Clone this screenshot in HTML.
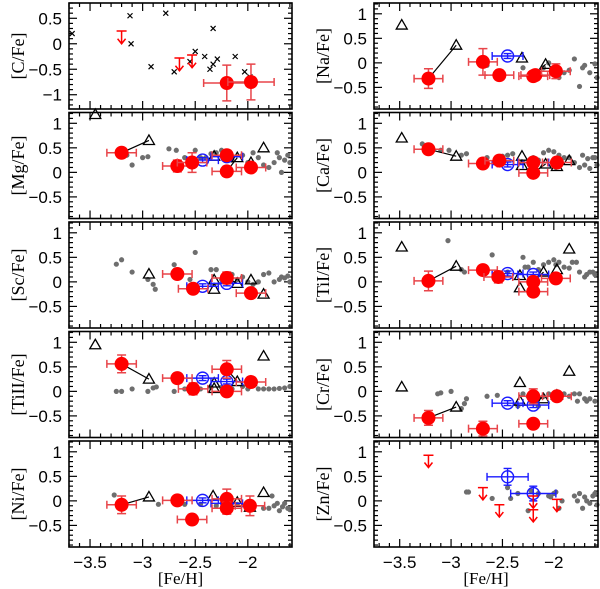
<!DOCTYPE html>
<html><head><meta charset="utf-8"><style>
html,body{margin:0;padding:0;background:#fff;}
svg{display:block;}
.tk{font-family:"Liberation Sans",sans-serif;font-size:17px;fill:#000;}
.tt{font-family:"Liberation Serif",serif;font-size:18px;fill:#000;}
.xt{font-family:"Liberation Serif",serif;font-size:17px;fill:#000;}
</style></head><body>
<svg id="chart" width="600" height="589" viewBox="0 0 600 589" xmlns="http://www.w3.org/2000/svg"></svg>
<script>
// ---- data: [Fe/H], [X/Fe] pairs ----
const cfeCross=[[-3.67,0.2],[-3.12,0.55],[-3.11,0.0],[-2.92,-0.45],[-2.78,0.6],[-2.70,-0.55],[-2.55,-0.35],[-2.50,-0.15],[-2.41,-0.25],[-2.36,-0.5],[-2.33,-0.4],[-2.33,0.3],[-2.29,-0.3],[-2.12,-0.25],[-2.03,-0.55],[-1.98,-0.65]];
const cfeRed=[[-2.2,-0.77],[-1.97,-0.75]];
const cfeRedXerr=[0.22,0.22];
const cfeRedYerr=[0.35,0.35];
const cfeLimits=[[-3.2,0.25],[-2.65,-0.28],[-2.53,-0.22]];

const naRed=[[-3.22,-0.32],[-2.69,0.02],[-2.53,-0.25],[-2.2,-0.27],[-2.18,-0.25],[-1.98,-0.17]];
const naRedYerr=[0.2,0.27,0.06,0.06,0.06,0.15];
const naBlue=[[-2.45,0.14]];
const naTri=[[-3.48,0.77],[-2.95,0.36],[-2.31,0.1],[-2.08,-0.03]];
const naLinks=[[0,1],[3,3]];
const naGrey=[[-2.65,-0.05],[-2.3,-0.1],[-2.1,-0.1],[-2.05,0.0],[-1.95,-0.3],[-1.9,-0.2],[-1.85,-0.15],[-1.8,0.08],[-1.75,-0.48],[-1.72,-0.1],[-1.7,-0.05],[-1.65,-0.2],[-1.6,-0.02],[-1.58,-0.3]];

const mgRed=[[-3.2,0.4],[-2.67,0.13],[-2.53,0.2],[-2.2,0.35],[-2.2,0.02],[-1.97,0.1]];
const mgRedYerr=[0.05,0.12,0.2,0.1,0.1,0.05];
const mgBlue=[[-2.43,0.25],[-2.2,0.32]];
const mgTri=[[-3.45,1.18],[-2.94,0.65],[-2.32,0.33],[-2.1,0.3],[-1.97,0.2],[-1.85,0.5]];
const mgLinks=[[0,1],[4,3]];
const mgGrey=[[-3.2,0.35],[-3.15,0.35],[-3.0,0.3],[-2.95,0.32],[-3.1,0.15],[-2.75,0.48],[-2.68,0.45],[-2.6,0.3],[-2.55,0.18],[-2.5,0.45],[-2.45,0.3],[-2.4,0.3],[-2.35,0.38],[-2.3,0.4],[-2.25,0.45],[-2.15,0.25],[-2.05,0.35],[-2.0,0.2],[-1.95,0.4],[-1.9,0.3],[-1.85,0.15],[-1.8,0.1],[-1.75,0.2],[-1.72,0.4],[-1.7,0.3],[-1.68,0.0],[-1.65,0.25],[-1.62,0.35],[-1.6,0.2]];

const caRed=[[-3.22,0.47],[-2.69,0.18],[-2.53,0.24],[-2.2,-0.01],[-2.2,0.2],[-1.97,0.2]];
const caRedYerr=[0.05,0.05,0.05,0.08,0.05,0.1];
const caBlue=[[-2.45,0.16],[-2.2,0.2]];
const caTri=[[-3.48,0.7],[-2.95,0.33],[-2.31,0.33],[-2.31,0.14],[-2.08,0.17],[-1.97,0.12],[-1.85,0.24]];
const caLinks=[[0,1],[3,4]];
const caGrey=[[-3.28,0.58],[-3.1,0.45],[-3.02,0.45],[-2.9,0.35],[-2.85,0.38],[-2.65,0.3],[-2.5,0.33],[-2.45,0.35],[-2.4,0.38],[-2.3,0.2],[-2.2,0.3],[-2.15,0.25],[-2.1,0.4],[-2.05,0.45],[-2.0,0.42],[-1.98,0.1],[-1.95,0.35],[-1.9,0.3],[-1.85,0.3],[-1.8,0.2],[-1.75,0.1],[-1.72,0.35],[-1.7,0.15],[-1.67,0.28],[-1.65,0.08],[-1.62,0.3],[-1.6,0.3],[-1.58,0.15]];

const scRed=[[-2.67,0.16],[-2.52,-0.14],[-2.2,0.08],[-1.97,-0.23]];
const scRedYerr=[0.08,0.08,0.12,0.08];
const scBlue=[[-2.43,-0.09],[-2.2,-0.03]];
const scTri=[[-2.94,0.16],[-2.32,0.04],[-2.32,-0.15],[-2.1,-0.03],[-1.97,0.04],[-1.85,-0.25]];
const scLinks=[[2,3]];
const scGrey=[[-3.25,0.36],[-3.2,0.45],[-3.1,0.2],[-2.95,0.05],[-2.9,-0.05],[-2.88,-0.15],[-2.7,0.35],[-2.68,0.1],[-2.55,0.05],[-2.5,0.6],[-2.35,0.25],[-2.3,0.25],[-2.25,0.05],[-2.15,0.15],[-2.1,0.05],[-2.05,0.1],[-2.0,0.0],[-1.95,-0.05],[-1.9,0.0],[-1.85,0.15],[-1.8,0.18],[-1.75,0.0],[-1.7,0.05],[-1.68,0.1],[-1.65,0.08],[-1.62,0.12],[-1.6,0.0]];

const tiRed=[[-3.22,0.02],[-2.69,0.24],[-2.54,0.1],[-2.2,0.0],[-2.2,-0.2],[-1.98,0.07]];
const tiRedYerr=[0.2,0.06,0.12,0.1,0.08,0.06];
const tiBlue=[[-2.45,0.17],[-2.2,0.15]];
const tiTri=[[-3.48,0.71],[-2.95,0.32],[-2.33,0.13],[-2.33,-0.12],[-2.1,0.2],[-1.97,0.25],[-1.85,0.67]];
const tiLinks=[[0,1],[3,4]];
const tiGrey=[[-3.03,0.84],[-2.9,0.25],[-2.87,0.2],[-2.6,0.55],[-2.45,0.2],[-2.3,0.5],[-2.28,0.3],[-2.25,0.3],[-2.2,0.4],[-2.15,0.25],[-2.1,0.35],[-2.05,0.4],[-2.0,0.45],[-1.98,0.35],[-1.95,0.4],[-1.9,0.3],[-1.85,0.28],[-1.82,0.4],[-1.78,0.4],[-1.75,0.2],[-1.7,0.1],[-1.68,0.15],[-1.65,0.2],[-1.62,0.2],[-1.6,0.15]];

const tiiRed=[[-3.2,0.56],[-2.67,0.27],[-2.52,0.05],[-2.2,0.45],[-2.2,0.0],[-1.97,0.19]];
const tiiRedYerr=[0.18,0.06,0.12,0.18,0.08,0.1];
const tiiBlue=[[-2.43,0.27],[-2.2,0.2]];
const tiiTri=[[-3.45,0.95],[-2.94,0.25],[-2.32,0.17],[-2.32,0.06],[-2.1,0.2],[-1.97,0.2],[-1.85,0.72]];
const tiiLinks=[[0,1],[3,4]];
const tiiGrey=[[-3.25,0],[-3.2,0],[-3.1,0.05],[-2.95,0],[-2.9,0.07],[-2.87,0.09],[-2.7,0.0],[-2.6,0.05],[-2.55,0.0],[-2.45,0.05],[-2.35,0.08],[-2.25,0.08],[-2.15,0.05],[-2.05,0.1],[-2.0,0.05],[-1.9,0.05],[-1.85,0.05],[-1.8,0.05],[-1.75,0.05],[-1.7,0.06],[-1.65,0.07],[-1.6,0.1]];

const crRed=[[-3.22,-0.54],[-2.69,-0.76],[-2.2,-0.66],[-2.2,-0.1],[-1.97,-0.1]];
const crRedYerr=[0.15,0.15,0.08,0.15,0.08];
const crBlue=[[-2.45,-0.24],[-2.2,-0.28]];
const crTri=[[-3.48,0.09],[-2.95,-0.32],[-2.33,0.18],[-2.33,-0.2],[-2.1,-0.15],[-1.97,-0.08],[-1.85,0.41]];
const crLinks=[[0,1],[3,4]];
const crGrey=[[-3.13,-0.05],[-3.1,-0.03],[-3.0,0.0],[-2.9,-0.35],[-2.87,-0.25],[-2.85,-0.15],[-2.65,-0.1],[-2.55,-0.08],[-2.35,-0.3],[-2.3,-0.05],[-2.25,-0.1],[-2.2,-0.1],[-2.15,-0.3],[-2.1,-0.1],[-2.05,-0.05],[-2.0,-0.08],[-1.95,-0.05],[-1.9,-0.05],[-1.85,-0.1],[-1.8,-0.05],[-1.77,-0.2],[-1.75,-0.05],[-1.7,-0.15],[-1.68,-0.2],[-1.65,-0.15],[-1.6,-0.2]];

const niRed=[[-3.2,-0.08],[-2.67,0.01],[-2.53,-0.38],[-2.2,0.04],[-2.2,-0.15],[-1.98,-0.1]];
const niRedYerr=[0.18,0.05,0.05,0.2,0.12,0.2];
const niBlue=[[-2.43,0.01],[-2.2,-0.05]];
const niTri=[[-2.94,0.08],[-2.33,0.1],[-2.1,-0.03],[-1.98,-0.13],[-1.85,0.17]];
const niLinks=[[0,0]];
const niGrey=[[-3.27,0.12],[-2.85,-0.07],[-2.6,-0.07],[-2.45,-0.07],[-2.3,-0.1],[-2.2,-0.05],[-2.1,-0.07],[-2.0,-0.1],[-1.95,-0.1],[-1.85,-0.15],[-1.8,-0.15],[-1.77,0.1],[-1.75,-0.1],[-1.72,-0.05],[-1.7,-0.2],[-1.67,-0.12],[-1.65,-0.05],[-1.62,-0.15],[-1.6,-0.18]];

const znLimits=[[-3.22,0.93],[-2.69,0.27],[-2.53,-0.08],[-2.2,0.1],[-2.2,-0.18],[-1.97,0.03]];
const znBlue=[[-2.45,0.49],[-2.2,0.15]];
const znBlueXerr=[0.2,0.22];
const znBlueYerr=[0.17,0.15];
const znGrey=[[-2.85,0.18],[-2.83,0.18],[-2.6,0.05],[-2.45,0.27],[-2.42,0.05],[-2.35,0.15],[-2.25,-0.2],[-2.22,0.2],[-2.15,0.15],[-2.05,0.1],[-2.03,0.08],[-2.0,0.15],[-1.98,0.18],[-1.95,-0.15],[-1.92,0.0],[-1.8,0.1],[-1.77,0.0],[-1.75,0.15],[-1.72,-0.15],[-1.7,0.08],[-1.68,0.0],[-1.65,-0.05],[-1.62,0.1],[-1.6,0.15],[-1.58,-0.08]];

const xTickLabels=[-3.5,-3,-2.5,-2];
const yTickLabels=[1,0.5,0,-0.5];
const cTickLabels=[0.5,0,-0.5,-1];

const NS="http://www.w3.org/2000/svg";
const svg=document.getElementById('chart');
function el(tag,attrs,parent){const e=document.createElementNS(NS,tag);for(const k in attrs)e.setAttribute(k,attrs[k]);(parent||svg).appendChild(e);return e;}
function fmt(v){return (v<0?'\u2212':'')+Math.abs(v);}
const RED='#ff0000',REDERR='#e8454a',BLUE='#1a1aff';

function panel(o){
  const g=el('g',{});
  
  
  const X=v=>o.left+(v-o.xmin)/(o.xmax-o.xmin)*o.w;
  const Y=v=>o.top+(o.ymax-v)/(o.ymax-o.ymin)*o.h;
  const tg=el('g',{stroke:'#000','stroke-width':1.2},g);
  for(let i=Math.ceil(o.xmin*10);i<=Math.floor(o.xmax*10);i++){
    const x=X(i/10),L=(i%5===0)?8:4;
    el('line',{x1:x,y1:o.top,x2:x,y2:o.top+L},tg);
    el('line',{x1:x,y1:o.top+o.h,x2:x,y2:o.top+o.h-L},tg);
  }
  for(let i=Math.ceil(o.ymin*10);i<=Math.floor(o.ymax*10);i++){
    const y=Y(i/10),L=(i%5===0)?8:4;
    el('line',{x1:o.left,y1:y,x2:o.left+L,y2:y},tg);
    el('line',{x1:o.left+o.w,y1:y,x2:o.left+o.w-L,y2:y},tg);
  }
  o.yLabels.forEach(v=>{const t=el('text',{x:o.left-7,y:Y(v)+6,'text-anchor':'end','class':'tk'},g);t.textContent=fmt(v);
    
    });
  const yt=el('text',{x:0,y:0,'text-anchor':'middle','class':'tt',transform:`translate(${o.left-45},${o.top+o.h/2}) rotate(-90)`},g);
  yt.textContent=o.title;
  
  
  if(o.xLabels){
    o.xLabels.forEach(v=>{const t=el('text',{x:X(v),y:o.top+o.h+21,'text-anchor':'middle','class':'tk'},g);t.textContent=fmt(v);
      
      });
    const xt=el('text',{x:o.left+o.w/2,y:o.top+o.h+37,'text-anchor':'middle','class':'xt'},g);xt.textContent='[Fe/H]';
    
    
  }
  (o.grey||[]).forEach(p=>{const c=el('circle',{cx:X(p[0]),cy:Y(p[1]),r:2.6,fill:'#6e6e6e'},g);
    
    });
  (o.cross||[]).forEach(p=>{const x=X(p[0]),y=Y(p[1]);const c=el('path',{d:`M${x-2.5},${y-2.5}L${x+2.5},${y+2.5}M${x-2.5},${y+2.5}L${x+2.5},${y-2.5}`,stroke:'#000','stroke-width':1.2},g);
    
    });
  (o.links||[]).forEach(l=>{const a=o.red[l[0]],b=o.tri[l[1]];const ln=el('line',{x1:X(a[0]),y1:Y(a[1]),x2:X(b[0]),y2:Y(b[1]),stroke:'#000','stroke-width':1.2},g);
    
    });
  (o.tri||[]).forEach(p=>{const x=X(p[0]),y=Y(p[1]);const t=el('path',{d:`M${x},${y-5.5}L${x+5.5},${y+4}L${x-5.5},${y+4}Z`,fill:'none',stroke:'#000','stroke-width':1.3},g);
    
    });
  (o.blue||[]).forEach((p,i)=>{const x=X(p[0]),y=Y(p[1]);const xe=o.blueXerr?o.blueXerr[i]:0.15,ye=o.blueYerr?o.blueYerr[i]:0.05;
    const bg=el('g',{stroke:BLUE,'stroke-width':1.4,fill:'none'},g);
    
    
    const x1=X(p[0]-xe),x2=X(p[0]+xe),y1=Y(p[1]+ye),y2=Y(p[1]-ye);
    el('path',{d:`M${x1},${y}H${x2}M${x1},${y-4}V${y+4}M${x2},${y-4}V${y+4}M${x},${y1}V${y2}M${x-4},${y1}H${x+4}M${x-4},${y2}H${x+4}`},bg);
    el('circle',{cx:x,cy:y,r:6},bg);});
  (o.red||[]).forEach((p,i)=>{const x=X(p[0]),y=Y(p[1]);const xe=o.redXerr?o.redXerr[i]:0.14,ye=o.redYerr?o.redYerr[i]:0.06;
    const rg=el('g',{},g);
    
    
    const x1=X(p[0]-xe),x2=X(p[0]+xe),y1=Y(p[1]+ye),y2=Y(p[1]-ye);
    el('path',{d:`M${x1},${y}H${x2}M${x1},${y-4}V${y+4}M${x2},${y-4}V${y+4}M${x},${y1}V${y2}M${x-4.5},${y1}H${x+4.5}M${x-4.5},${y2}H${x+4.5}`,stroke:REDERR,'stroke-width':1.5,fill:'none'},rg);
    el('circle',{cx:x,cy:y,r:7,fill:RED},rg);});
  (o.limits||[]).forEach(p=>{const x=X(p[0]),y=Y(p[1]),y2=Y(p[1]-0.25);
    const a=el('path',{d:`M${x-5},${y}H${x+5}M${x},${y}V${y2}M${x-4},${y2-5}L${x},${y2}L${x+4},${y2-5}`,stroke:RED,'stroke-width':1.5,fill:'none'},g);
    
    });
  el('rect',{x:o.left,y:o.top,width:o.w,height:o.h,fill:'none',stroke:'#000','stroke-width':1.6},g);
}
const L={left:69,w:223,xmin:-3.7,xmax:-1.58},R={left:374,w:224,xmin:-3.75,xmax:-1.57};
const tops=[3,112.5,222,331.5,441],H=106;
const std={ymin:-0.94,ymax:1.22,yLabels:yTickLabels};
panel(Object.assign({},L,{name:'c-fe',top:tops[0],h:H,ymin:-1.28,ymax:0.8,yLabels:cTickLabels,title:'[C/Fe]',cross:cfeCross,red:cfeRed,redXerr:cfeRedXerr,redYerr:cfeRedYerr,limits:cfeLimits}));
panel(Object.assign({},R,std,{name:'na-fe',top:tops[0],h:H,title:'[Na/Fe]',red:naRed,redYerr:naRedYerr,blue:naBlue,tri:naTri,links:naLinks,grey:naGrey}));
panel(Object.assign({},L,std,{name:'mg-fe',top:tops[1],h:H,title:'[Mg/Fe]',red:mgRed,redYerr:mgRedYerr,blue:mgBlue,tri:mgTri,links:mgLinks,grey:mgGrey}));
panel(Object.assign({},R,std,{name:'ca-fe',top:tops[1],h:H,title:'[Ca/Fe]',red:caRed,redYerr:caRedYerr,blue:caBlue,tri:caTri,links:caLinks,grey:caGrey}));
panel(Object.assign({},L,std,{name:'sc-fe',top:tops[2],h:H,title:'[Sc/Fe]',red:scRed,redYerr:scRedYerr,blue:scBlue,tri:scTri,links:scLinks,grey:scGrey}));
panel(Object.assign({},R,std,{name:'ti-fe',top:tops[2],h:H,title:'[TiI/Fe]',red:tiRed,redYerr:tiRedYerr,blue:tiBlue,tri:tiTri,links:tiLinks,grey:tiGrey}));
panel(Object.assign({},L,std,{name:'tiii-fe',top:tops[3],h:H,title:'[TiII/Fe]',red:tiiRed,redYerr:tiiRedYerr,blue:tiiBlue,tri:tiiTri,links:tiiLinks,grey:tiiGrey}));
panel(Object.assign({},R,std,{name:'cr-fe',top:tops[3],h:H,title:'[Cr/Fe]',red:crRed,redYerr:crRedYerr,blue:crBlue,tri:crTri,links:crLinks,grey:crGrey}));
panel(Object.assign({},L,std,{name:'ni-fe',top:tops[4],h:H,title:'[Ni/Fe]',red:niRed,redYerr:niRedYerr,blue:niBlue,tri:niTri,links:niLinks,grey:niGrey,xLabels:xTickLabels}));
panel(Object.assign({},R,std,{name:'zn-fe',top:tops[4],h:H,title:'[Zn/Fe]',blue:znBlue,blueXerr:znBlueXerr,blueYerr:znBlueYerr,grey:znGrey,limits:znLimits,xLabels:xTickLabels}));
</script>
</body></html>
